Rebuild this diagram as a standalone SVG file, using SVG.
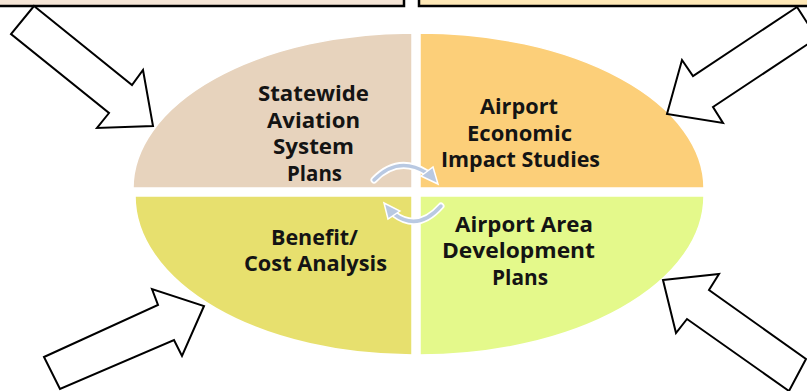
<svg xmlns="http://www.w3.org/2000/svg" width="807" height="391" viewBox="0 0 807 391">
<style>
.box{stroke:#000;stroke-width:2.5}
.quad{stroke:#fff;stroke-width:1.5}
.lbl{font-family:"Open Sans","Liberation Sans",sans-serif;font-weight:bold;font-size:20.5px;fill:#141414;text-anchor:middle}
.blk{fill:#fff;stroke:#000;stroke-width:2;stroke-linejoin:miter}
.cyc-o{fill:none;stroke:#fff;stroke-width:7;stroke-linecap:round}
.cyc{fill:none;stroke:#B9C9E2;stroke-width:3.5;stroke-linecap:round}
.cyh{fill:#B9C9E2;stroke:#fff;stroke-width:1.5}
</style>
<rect width="807" height="391" fill="#fff"/>
<g id="box-top-left"><rect class="box" x="-4" y="-12" width="408" height="18" fill="#F5E5D6"/></g>
<g id="box-top-right"><rect class="box" x="419" y="-12" width="395" height="18" fill="#FEE8B6"/></g>
<g id="node-statewide">
<path class="quad" d="M412 188 L133 188 A279 155 0 0 1 412 33 Z" fill="#E7D3BD"/>
<text class="lbl" x="313.5" y="101" textLength="111" lengthAdjust="spacingAndGlyphs">Statewide</text>
<text class="lbl" x="313.5" y="127.5" textLength="93" lengthAdjust="spacingAndGlyphs">Aviation</text>
<text class="lbl" x="313.5" y="154" textLength="81" lengthAdjust="spacingAndGlyphs">System</text>
<text class="lbl" x="314.5" y="180.5" textLength="55" lengthAdjust="spacingAndGlyphs">Plans</text>
</g>
<g id="node-economic">
<path class="quad" d="M420 188 L420 33 A284 155 0 0 1 704 188 Z" fill="#FCCF79"/>
<text class="lbl" x="519" y="114" textLength="78" lengthAdjust="spacingAndGlyphs">Airport</text>
<text class="lbl" x="519.5" y="141" textLength="105" lengthAdjust="spacingAndGlyphs">Economic</text>
<text class="lbl" x="520.5" y="167" textLength="159" lengthAdjust="spacingAndGlyphs">Impact Studies</text>
</g>
<g id="node-benefit">
<path class="quad" d="M412 196 L412 355 A277 159 0 0 1 135 196 Z" fill="#E7E06E"/>
<text class="lbl" x="314.5" y="245" textLength="87" lengthAdjust="spacingAndGlyphs">Benefit/</text>
<text class="lbl" x="315.5" y="271" textLength="143" lengthAdjust="spacingAndGlyphs">Cost Analysis</text>
</g>
<g id="node-development">
<path class="quad" d="M420 196 L704 196 A284 159 0 0 1 420 355 Z" fill="#E4F98B"/>
<text class="lbl" x="524" y="232" textLength="138" lengthAdjust="spacingAndGlyphs">Airport Area</text>
<text class="lbl" x="518.5" y="258" textLength="153" lengthAdjust="spacingAndGlyphs">Development</text>
<text class="lbl" x="520" y="285" textLength="56" lengthAdjust="spacingAndGlyphs">Plans</text>
</g>
<g id="cycle">
<path class="cyc-o" d="M374 180 Q398 155 427 173"/>
<path class="cyc-o" d="M441 206 Q418 232 394 214"/>
<path class="cyc" d="M374 180 Q398 155 427 173"/>
<path class="cyc" d="M441 206 Q418 232 394 214"/>
<polygon class="cyh" points="421,176 433,167 438,184"/>
<polygon class="cyh" points="400,211 388,219 384,203"/>
</g>
<g id="connectors">
<polygon class="blk" points="34,6 132,85 143,70 153,126 97,128 109,113 11,34"/>
<polygon class="blk" points="797,7 693,76 682,60 667,114 723,123 713,107 817,38"/>
<polygon class="blk" points="44,357 158,305 152,289 204,306 182,356 174,340 60,389"/>
<polygon class="blk" points="663,280 719,274 709,290 806,359 789,391 687,319 676,333"/>
</g>
</svg>
